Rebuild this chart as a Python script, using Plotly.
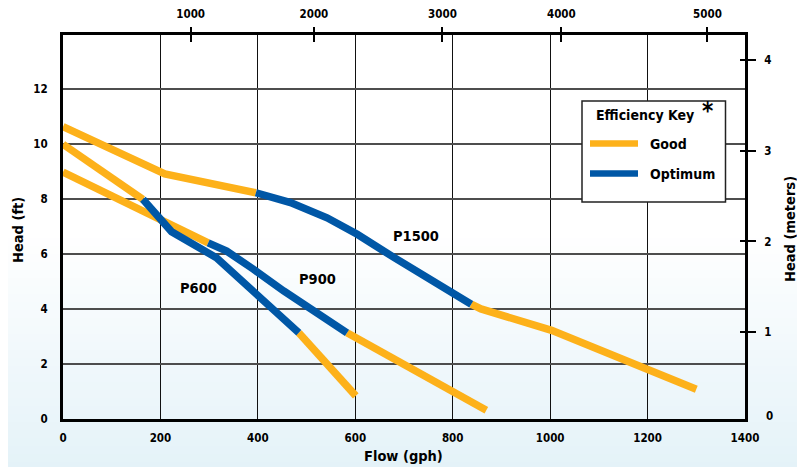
import plotly.graph_objects as go

# Pump curves: flow (gph) vs head (ft), split into efficiency bands
p1500_good_a_x = [0, 209, 396]
p1500_good_a_y = [10.62, 8.9, 8.22]
p1500_opt_x = [396, 467, 542, 604, 680, 838]
p1500_opt_y = [8.22, 7.86, 7.31, 6.71, 5.86, 4.17]
p1500_good_b_x = [838, 858, 1003, 1188, 1300]
p1500_good_b_y = [4.17, 4.0, 3.22, 1.86, 1.08]

p900_good_a_x = [0, 298]
p900_good_a_y = [8.97, 6.4]
p900_opt_x = [298, 336, 391, 453, 583]
p900_opt_y = [6.4, 6.1, 5.44, 4.65, 3.13]
p900_good_b_x = [583, 869]
p900_good_b_y = [3.13, 0.32]

p600_good_a_x = [0, 78, 164]
p600_good_a_y = [9.98, 9.01, 7.98]
p600_opt_x = [164, 223, 315, 391, 484]
p600_opt_y = [7.98, 6.8, 5.86, 4.65, 3.13]
p600_good_b_x = [484, 601]
p600_good_b_y = [3.13, 0.84]

# Axis ticks
flow_ticks = [0, 200, 400, 600, 800, 1000, 1200, 1400]
head_ft_ticks = [0, 2, 4, 6, 8, 10, 12]
head_m_ticks = [1, 2, 3, 4]
lph_tick_pos = [262, 515, 779, 1023, 1323]   # where the l/h marks sit on the gph scale
lph_tick_labels = ['1000', '2000', '3000', '4000', '5000']

GOOD = '#FDB11A'
OPTIMUM = '#0057A6'
FONT = 'Liberation Sans Narrow, DejaVu Sans Condensed, Arial Narrow, sans-serif'

# the page body has an 8px margin, so the figure is drawn 8px in from the window corner
OFF = 8
W, H = 805 - OFF, 467 - OFF
L, R, T, B = 63 - OFF, 60, 35 - OFF, 48
PW, PH = W - L - R, H - T - B


# window pixel -> paper helpers for the decorations
def px(x):
    return (x - OFF - L) / PW


def py(y):
    return (T + PH - (y - OFF)) / PH


fig = go.Figure()

segments = [
    (p1500_good_a_x, p1500_good_a_y, GOOD), (p1500_good_b_x, p1500_good_b_y, GOOD),
    (p900_good_a_x, p900_good_a_y, GOOD), (p900_good_b_x, p900_good_b_y, GOOD),
    (p600_good_a_x, p600_good_a_y, GOOD), (p600_good_b_x, p600_good_b_y, GOOD),
    (p1500_opt_x, p1500_opt_y, OPTIMUM), (p900_opt_x, p900_opt_y, OPTIMUM),
    (p600_opt_x, p600_opt_y, OPTIMUM),
]
for xs, ys, col in segments:
    fig.add_trace(go.Scatter(x=xs, y=ys, mode='lines',
                             line=dict(color=col, width=7.5),
                             showlegend=False, hoverinfo='skip'))

# empty traces so the extra tick axes get drawn
for xa, ya in [('x2', 'y'), ('x3', 'y'), ('x', 'y2'), ('x', 'y3')]:
    fig.add_trace(go.Scatter(x=[None], y=[None], xaxis=xa, yaxis=ya,
                             showlegend=False, hoverinfo='skip'))

tickfont = dict(family=FONT, size=11.5, color='black', weight='bold')

fig.update_layout(
    width=W, height=H, autosize=False,
    margin=dict(l=L, r=R, t=T, b=B),
    paper_bgcolor='white', plot_bgcolor='rgba(0,0,0,0)',
    showlegend=False,
    xaxis=dict(range=[0, 1400], tickvals=flow_ticks, ticks='', tickfont=tickfont,
               showgrid=True, gridcolor='#111', gridwidth=1, zeroline=False,
               showline=True, linewidth=3, linecolor='black', mirror=True,
               ticklabelstandoff=6),
    yaxis=dict(range=[0, 13.95], tickvals=head_ft_ticks, ticks='', tickfont=tickfont,
               showgrid=True, gridcolor='#4d4d4d', gridwidth=1.6, zeroline=False,
               showline=True, linewidth=3, linecolor='black', mirror=True,
               ticklabelstandoff=10),
    xaxis2=dict(overlaying='x', side='top', anchor='y', range=[0, 1400],
                tickvals=lph_tick_pos, ticktext=lph_tick_labels, tickfont=tickfont,
                ticks='outside', ticklen=7, tickwidth=1.5, tickcolor='black',
                showgrid=False, zeroline=False, showline=False, ticklabelstandoff=4),
    xaxis3=dict(overlaying='x', side='top', anchor='y', range=[0, 1400],
                tickvals=lph_tick_pos, ticks='inside', ticklen=7, tickwidth=1.5,
                tickcolor='black', showticklabels=False,
                showgrid=False, zeroline=False, showline=False),
    yaxis2=dict(overlaying='y', side='right', anchor='x', range=[0.04, 4.28],
                tickvals=head_m_ticks, tickfont=tickfont,
                ticks='outside', ticklen=10, tickwidth=1.5, tickcolor='black',
                showgrid=False, zeroline=False, showline=False, ticklabelstandoff=6),
    yaxis3=dict(overlaying='y', side='right', anchor='x', range=[0.04, 4.28],
                tickvals=head_m_ticks, ticks='inside', ticklen=5, tickwidth=1.5,
                tickcolor='black', showticklabels=False,
                showgrid=False, zeroline=False, showline=False),
)
# keep the plot box exactly where the margins put it
fig.update_xaxes(automargin=False)
fig.update_yaxes(automargin=False)

shapes = []
# soft white-to-blue page gradient
n = 30
top, bot = 230, 470
for i in range(n):
    t = (i + 0.5) / n
    r = round(255 - 27 * t)
    g = round(255 - 13 * t)
    b = round(255 - 7 * t)
    y0 = top + (bot - top) * i / n
    y1 = top + (bot - top) * (i + 1) / n + 0.5
    shapes.append(dict(type='rect', xref='paper', yref='paper', layer='below',
                       x0=px(0), x1=px(810), y0=py(y1), y1=py(y0),
                       fillcolor=f'rgb({r},{g},{b})', line=dict(width=0)))

# efficiency key box
shapes.append(dict(type='rect', xref='paper', yref='paper', layer='above',
                   x0=px(582), x1=px(725.5), y0=py(202), y1=py(101),
                   fillcolor='white', line=dict(color='#222', width=1.5)))
shapes.append(dict(type='line', xref='paper', yref='paper', layer='above',
                   x0=px(590), x1=px(638), y0=py(143.5), y1=py(143.5),
                   line=dict(color=GOOD, width=6.5)))
shapes.append(dict(type='line', xref='paper', yref='paper', layer='above',
                   x0=px(590), x1=px(638), y0=py(173.5), y1=py(173.5),
                   line=dict(color=OPTIMUM, width=6.5)))
fig.update_layout(shapes=shapes)

bold = lambda s: dict(family=FONT, size=s, color='black', weight='bold')


def label(x, y, text, size, xanchor='center', angle=0, ref='paper'):
    return dict(x=x, y=y, xref=ref, yref=ref.replace('x', 'y'), text=text,
                xanchor=xanchor, yanchor='middle', textangle=angle,
                showarrow=False, font=bold(size) if size else tickfont)


ann = [
    label(279, 4.77, 'P600', 14.5, ref='x'),
    label(522, 5.07, 'P900', 14.5, ref='x'),
    label(725, 6.65, 'P1500', 14.5, ref='x'),
    label(px(645), py(115), 'Efficiency Key', 14),
    label(px(707), py(111), '*', 24),
    label(px(648), py(144), 'Good', 14, xanchor='left'),
    label(px(648), py(174), 'Optimum', 14, xanchor='left'),
    label(px(18), py(230), 'Head (ft)', 14.5, angle=-90),
    label(px(790), py(229), 'Head (meters)', 14.5, angle=-90),
    label(px(403), py(456), 'Flow (gph)', 14.5),
    label(px(764), py(416), '0', None, xanchor='left'),
]
fig.update_layout(annotations=ann)

fig.write_html("out.html")
